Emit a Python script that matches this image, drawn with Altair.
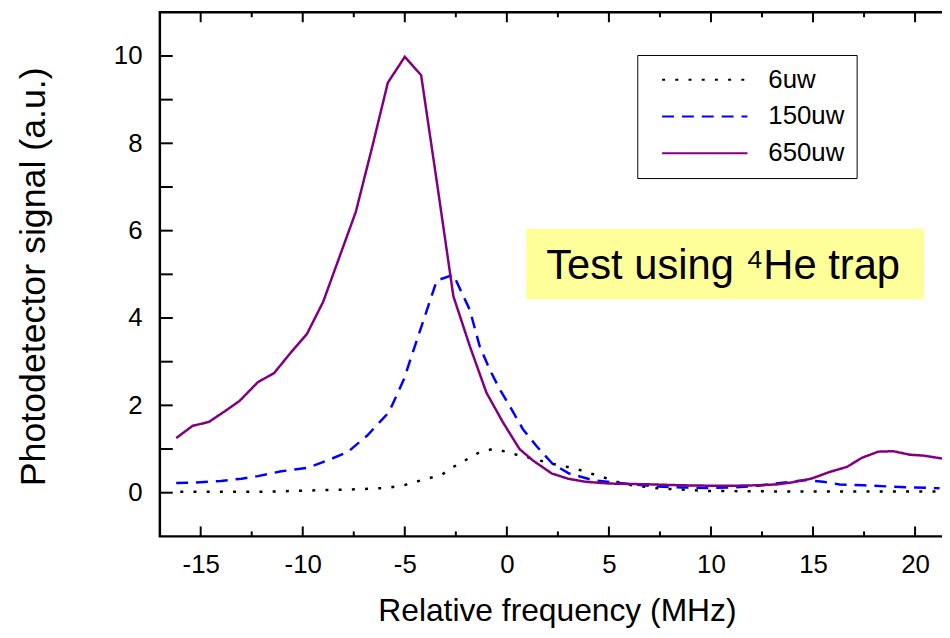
import altair as alt
import pandas as pd

# ---------------- data ----------------
series_names = ["6uw", "150uw", "650uw"]

x_6uw = [-16.0, -15.7, -14.0, -12.0, -9.75, -7.16, -5.86, -5.05, -3.92, -3.19, -2.62, -1.97,
         -1.33, -0.68, -0.03, 0.62, 1.27, 2.24, 3.37, 4.67, 5.8, 7.4, 9.85, 13.0, 17.0, 21.2]
y_6uw = [0.02, 0.02, 0.02, 0.02, 0.05, 0.08, 0.11, 0.17, 0.32, 0.41, 0.59, 0.76,
         0.93, 1.0, 0.94, 0.85, 0.78, 0.66, 0.55, 0.36, 0.19, 0.10, 0.04, 0.03, 0.03, 0.03]

x_150uw = [-16.2, -15.4, -14.0, -13.0, -12.2, -11.05, -9.75, -8.78, -7.8, -6.84, -5.78, -5.05,
           -4.24, -3.43, -2.62, -1.81, -1.33, -0.84, -0.35, 0.13, 0.78, 1.43, 2.24, 3.05,
           4.19, 5.32, 6.4, 7.4, 8.6, 9.85, 11.1, 12.3, 13.9, 14.7, 15.5, 16.3, 17.5, 18.8,
           20.0, 21.2]
y_150uw = [0.22, 0.23, 0.27, 0.32, 0.38, 0.49, 0.57, 0.74, 0.93, 1.31, 1.84, 2.59,
           3.73, 4.86, 4.99, 4.18, 3.35, 2.82, 2.37, 1.99, 1.46, 1.08, 0.66, 0.44,
           0.29, 0.23, 0.18, 0.14, 0.12, 0.11, 0.12, 0.16, 0.25, 0.29, 0.25, 0.19, 0.17, 0.14,
           0.12, 0.10]

x_650uw = [-16.2, -15.4, -14.6, -13.8, -13.1, -12.2, -11.4, -10.6, -9.8, -9.0, -8.2, -7.4,
           -6.6, -5.83, -5.0, -4.2, -3.4, -2.62, -1.81, -1.0, -0.19, 0.62, 1.27, 2.2, 3.0,
           3.86, 5.0, 6.0, 7.1, 8.5, 10.0, 11.2, 12.3, 13.2, 13.9, 14.9, 15.85, 16.66, 17.4,
           18.2, 18.93, 19.74, 20.4, 21.36]
y_650uw = [1.25, 1.53, 1.62, 1.87, 2.1, 2.53, 2.74, 3.2, 3.63, 4.37, 5.4, 6.43,
           7.91, 9.39, 9.98, 9.56, 7.02, 4.5, 3.35, 2.29, 1.61, 1.0, 0.74, 0.44, 0.32,
           0.25, 0.21, 0.20, 0.19, 0.17, 0.16, 0.16, 0.17, 0.19, 0.23, 0.32, 0.48, 0.59, 0.80,
           0.94, 0.95, 0.87, 0.85, 0.78]

x_major_ticks = [-15, -10, -5, 0, 5, 10, 15, 20]
x_minor_ticks = [-12.5, -7.5, -2.5, 2.5, 7.5, 12.5, 17.5]
y_tick_values = [0, 1, 2, 3, 4, 5, 6, 7, 8, 9, 10]
y_label_values = [0, 2, 4, 6, 8, 10]

x_title = "Relative frequency (MHz)"
y_title = "Photodetector signal (a.u.)"
annotation_text = "Test using \u2074He trap"

# ---------------- layout / style ----------------
W, H = 802, 528
FONT = "Liberation Sans"
series_colors = ["black", "#0000FF", "#800080"]
series_dashes = [[3, 10.3], [12, 8], [1, 0]]

rows = []
for name, xs, ys in zip(series_names, [x_6uw, x_150uw, x_650uw], [y_6uw, y_150uw, y_650uw]):
    for xv, yv in zip(xs, ys):
        rows.append({"series": name, "freq": xv, "signal": yv})
df = pd.DataFrame(rows)

xscale = alt.Scale(domain=[-17, 22], nice=False, zero=False)
yscale = alt.Scale(domain=[-1, 11], nice=False, zero=False)

x_axis = alt.Axis(orient="bottom", values=x_major_ticks, ticks=False, domain=False, grid=False,
                  labelExpr="toString(datum.value)",
                  labelFontSize=26, labelFont=FONT, labelColor="black", labelPadding=15,
                  labelFlush=False,
                  title=x_title, titleFontSize=32, titleFont=FONT, titleFontWeight="normal",
                  titleColor="black", titleX=400, titleY=85, titleBaseline="alphabetic",
                  titleAlign="center")
y_axis = alt.Axis(orient="left", values=y_label_values, ticks=False, domain=False, grid=False,
                  labelFontSize=26, labelFont=FONT, labelColor="black", labelPadding=18,
                  title=y_title, titleFontSize=36, titleFont=FONT, titleFontWeight="normal",
                  titleColor="black", titleX=-116, titleY=266, titleAngle=270,
                  titleBaseline="alphabetic", titleAlign="center")

legend_common = dict(title=None, orient="none", legendX=481, legendY=43,
                     strokeColor="black", fillColor="white", padding=12,
                     symbolType="M0,0H86", symbolSize=4, symbolStrokeWidth=2,
                     labelFontSize=26, labelFont=FONT, labelColor="black",
                     labelOffset=94, rowPadding=11, labelLimit=300)

lines = alt.Chart(df).mark_line(strokeWidth=2.5).encode(
    x=alt.X("freq:Q", scale=xscale, axis=x_axis),
    y=alt.Y("signal:Q", scale=yscale, axis=y_axis),
    color=alt.Color("series:N", scale=alt.Scale(domain=series_names, range=series_colors),
                    legend=alt.Legend(**legend_common)),
    strokeDash=alt.StrokeDash("series:N", scale=alt.Scale(domain=series_names, range=series_dashes),
                              legend=alt.Legend(**legend_common)),
)

xmaj = pd.DataFrame({"freq": x_major_ticks})
xmin = pd.DataFrame({"freq": x_minor_ticks})
yt = pd.DataFrame({"signal": y_tick_values})


def xticks(data, length):
    bottom = alt.Chart(data).mark_rule(color="black", strokeWidth=2).encode(
        x=alt.X("freq:Q", scale=xscale, axis=None), y=alt.value(H), y2=alt.value(H - length))
    top = alt.Chart(data).mark_rule(color="black", strokeWidth=2).encode(
        x=alt.X("freq:Q", scale=xscale, axis=None), y=alt.value(0), y2=alt.value(length))
    return [bottom, top]


yleft = alt.Chart(yt).mark_rule(color="black", strokeWidth=2).encode(
    y=alt.Y("signal:Q", scale=yscale, axis=None), x=alt.value(0), x2=alt.value(13))
yright = alt.Chart(yt).mark_rule(color="black", strokeWidth=2).encode(
    y=alt.Y("signal:Q", scale=yscale, axis=None), x=alt.value(W), x2=alt.value(W - 13))

ann = pd.DataFrame({"label": [annotation_text]})
ann_box = alt.Chart(ann).mark_rect(color="#FFFF99").encode(
    x=alt.value(369), x2=alt.value(770), y=alt.value(218), y2=alt.value(289))
ann_text = alt.Chart(ann).mark_text(font=FONT, fontSize=42, align="center",
                                    baseline="alphabetic", color="black").encode(
    x=alt.value(567.5), y=alt.value(269), text="label:N")

chart = alt.layer(
    ann_box, ann_text,
    *xticks(xmaj, 10), *xticks(xmin, 5), yleft, yright,
    lines,
).resolve_axis(x="independent", y="independent").properties(
    width=W, height=H,
    autosize=alt.AutoSizeParams(type="none"),
    padding={"left": 153, "top": 2, "right": -14, "bottom": 92},
).configure_view(stroke="black", strokeWidth=2.5)

chart.save("out.html", embed_options={"renderer": "svg", "actions": False})
